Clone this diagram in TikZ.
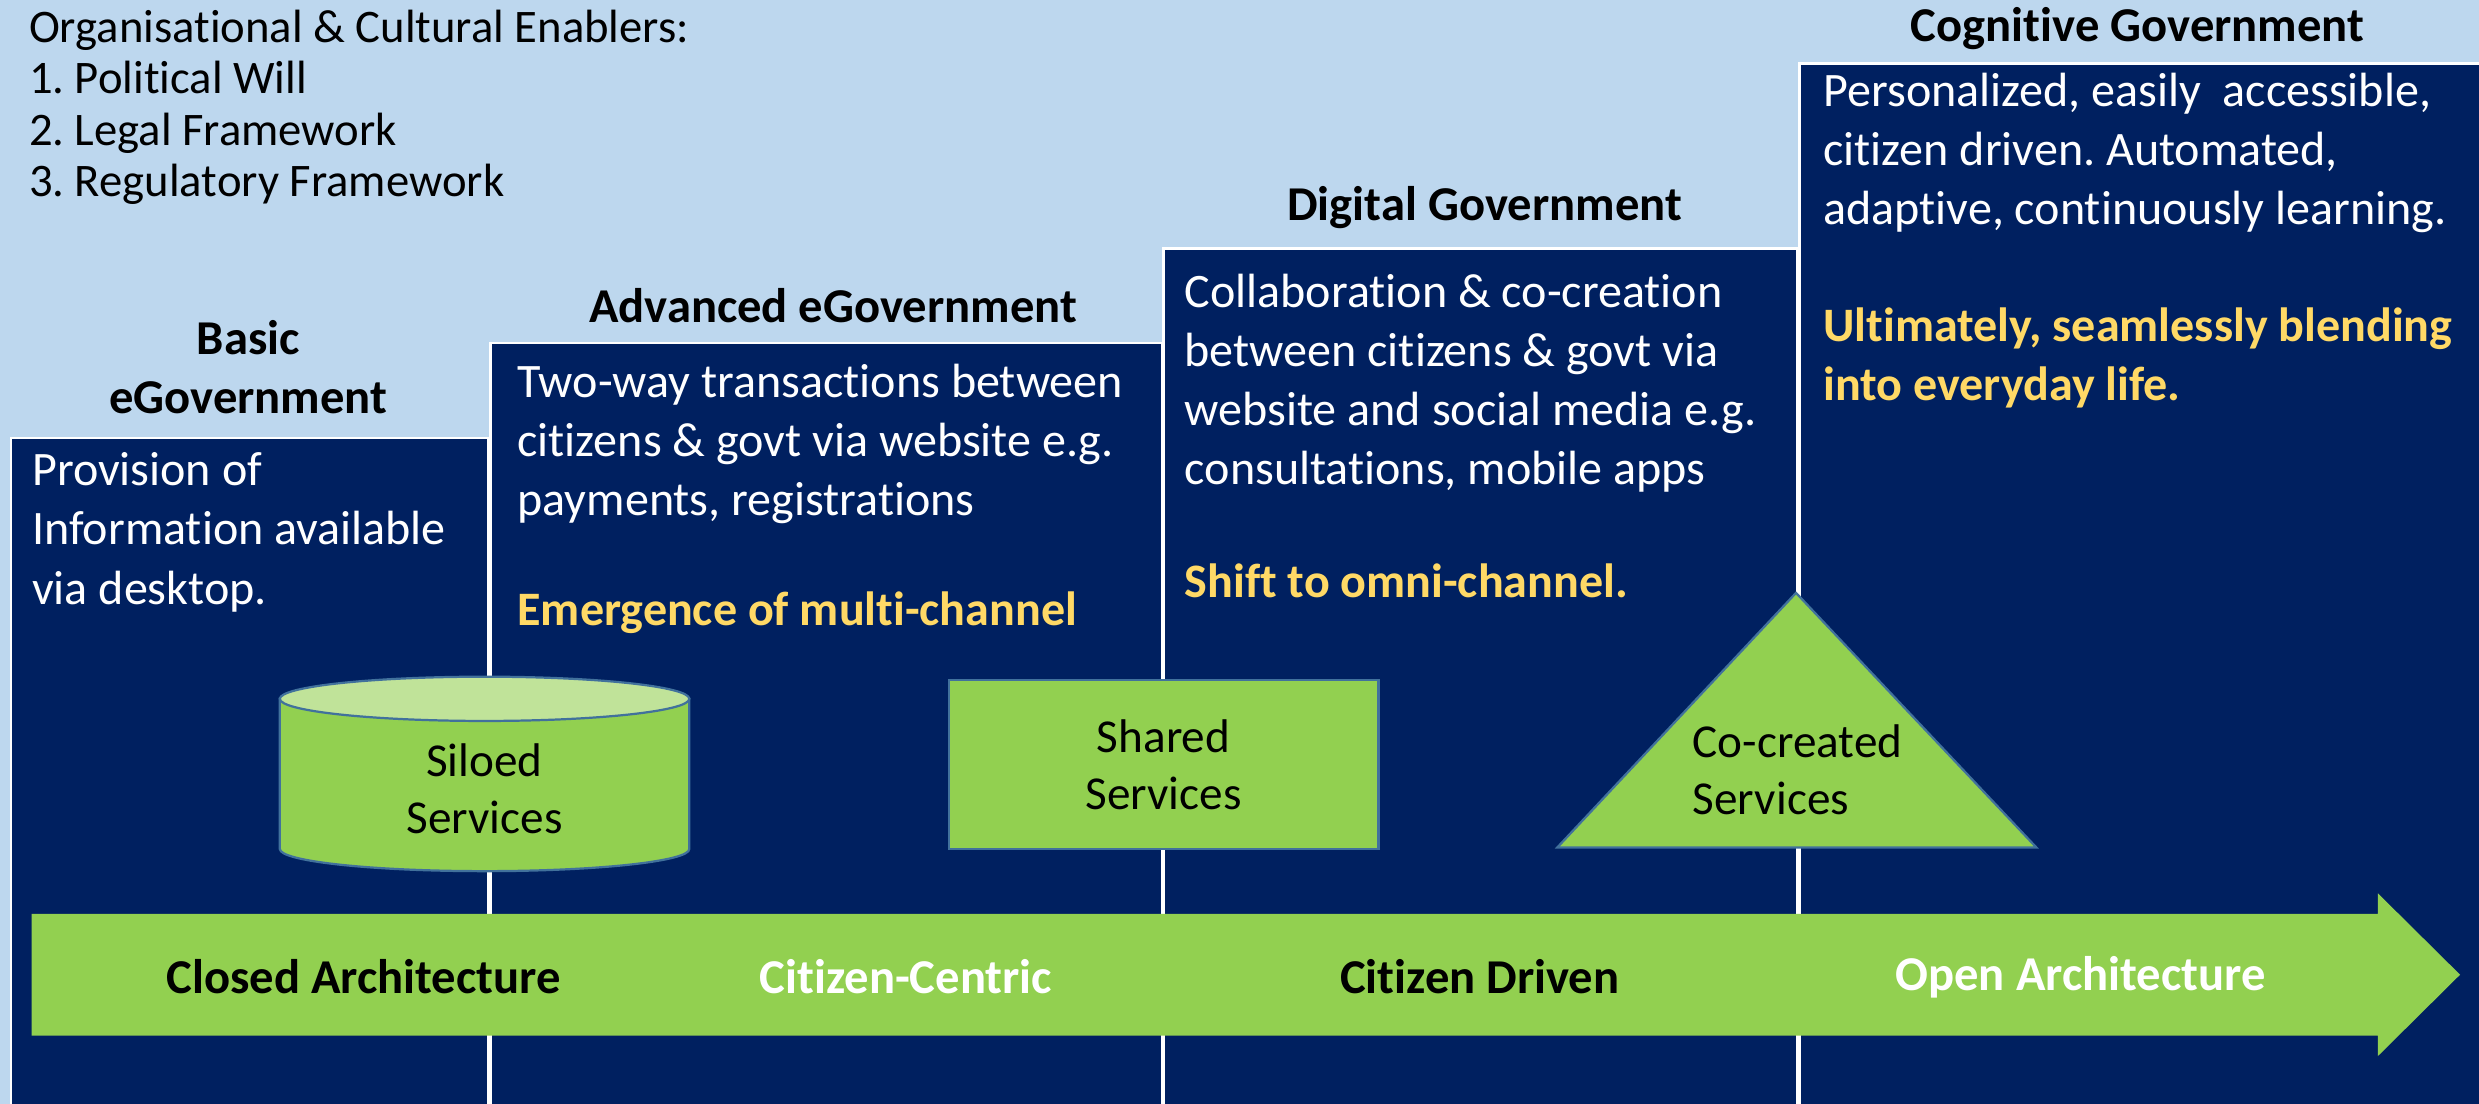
\documentclass[tikz,border=0pt]{standalone}
\usepackage{fontspec}
\setmainfont{Carlito}[Ligatures={NoCommon}]
\usepackage{xcolor}
\definecolor{skyblue}{HTML}{BDD7EE}
\definecolor{navy}{HTML}{002060}
\definecolor{leaf}{HTML}{92D050}
\definecolor{leaflight}{HTML}{C0E399}
\definecolor{gold}{HTML}{FFD966}
\definecolor{edgeblue}{HTML}{41719C}
\frenchspacing

\tikzset{
	column/.style={fill=navy, draw=white, line width=1pt},
	title/.style={font=\fontsize{17.5}{21.3}\selectfont\bfseries, align=center, inner sep=0pt},
	body/.style={text=white, align=left, anchor=north west, inner sep=0pt, font=\fontsize{17.3}{21.3}\selectfont},
	highlight/.style={body, text=gold, font=\fontsize{17.3}{21.3}\selectfont\bfseries},
	service/.style={fill=leaf, draw=edgeblue, line width=0.8pt},
	stage/.style={font=\fontsize{17.5}{21.3}\selectfont\bfseries, inner sep=0pt}
}

\begin{document}
\begin{tikzpicture}[x=0.02cm, y=-0.02cm]

		\fill[skyblue] (0,0) rectangle (1568,698);
		\useasboundingbox (0,0) rectangle (1568,698);

		% enablers
		\node (enablers) at (18,6) [anchor=north west, inner sep=0pt, align=left, font=\fontsize{16.8}{18.5}\selectfont] {Organisational \& Cultural Enablers:\\1. Political Will\\2. Legal Framework\\3. Regulatory Framework};

		% the four steps
		\filldraw[column] (7,277) rectangle (309,702);
		\filldraw[column] (310,217) rectangle (735,702);
		\filldraw[column] (736,157) rectangle (1137,702);
		\filldraw[column] (1138,40) rectangle (1572,702);

		\node (basic) at (157,232) [title] {Basic\\eGovernment};
		\node (advanced) at (527,193) [title] {Advanced eGovernment};
		\node (digital) at (939,131) [title] {Digital Government};
		\node (cognitive) at (1352,18) [title] {Cognitive Government};

		\node (basictext) at (20,286) [body] {Provision of\\Information available\\via desktop.};
		\node (advtext) at (327,230) [body] {Two-way transactions between\\citizens \& govt via website e.g.\\payments, registrations};
		\node (advnote) at (327,374) [highlight] {Emergence of multi-channel};
		\node (digtext) at (749,173) [body] {Collaboration \& co-creation\\between citizens \& govt via\\website and social media e.g.\\consultations, mobile apps};
		\node (dignote) at (749,356) [highlight] {Shift to omni-channel.};
		\node (cogtext) at (1153,46) [body] {Personalized, easily\ \ accessible,\\citizen driven. Automated,\\adaptive, continuously learning.};
		\node (cognote) at (1153,194) [highlight] {Ultimately, seamlessly blending\\into everyday life.};

		% services
		\filldraw[service] (177,442) -- (177,537) arc[start angle=180, end angle=0, x radius=129.5, y radius=14] -- (436,442) -- cycle;
		\filldraw[service, fill=leaflight] (306.5,442) ellipse [x radius=129.5, y radius=14];
		\node (siloed) at (306.5,499) [align=center, font=\fontsize{17}{20.5}\selectfont] {Siloed\\Services};

		\node (shared) at (736,483.5) [service, minimum width=5.44cm, minimum height=2.14cm, align=center, font=\fontsize{17}{20.5}\selectfont] {Shared\\Services};

		\filldraw[service] (1136,375) -- (1288,536) -- (985,536) -- cycle;
		\node (cocreated) at (1137,487) [align=left, font=\fontsize{17}{20.5}\selectfont] {Co-created\\Services};

		% arrow
		\fill[leaf] (20,578) -- (1504,578) -- (1504,565) -- (1556,616.5) -- (1504,668) -- (1504,655) -- (20,655) -- cycle;
		\node (closed) at (230,618) [stage] {Closed Architecture};
		\node (centric) at (573,618) [stage, text=white] {Citizen-Centric};
		\node (driven) at (936,618) [stage] {Citizen Driven};
		\node (open) at (1316,618) [stage, text=white] {Open Architecture};

\end{tikzpicture}
\end{document}
